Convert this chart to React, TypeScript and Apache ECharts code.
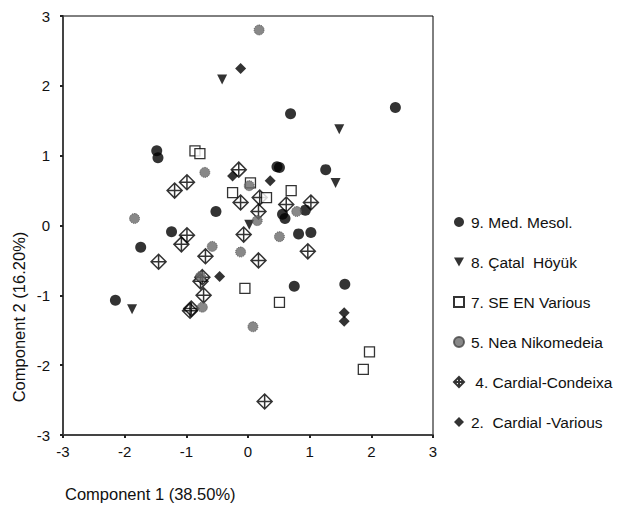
import React, { useEffect, useRef } from "react";
import * as echarts from "echarts";

const seriesNames = [
  "9. Med. Mesol.",
  "8. Çatal  Höyük",
  "7. SE EN Various",
  "5. Nea Nikomedeia",
  " 4. Cardial-Condeixa",
  "2.  Cardial -Various",
];

const medMesol = [
  [-1.48, 1.07], [-1.46, 0.97], [-1.74, -0.31], [-1.24, -0.09], [-2.15, -1.07],
  [-0.52, 0.2], [0.69, 1.6], [2.39, 1.69], [0.47, 0.84], [0.51, 0.83],
  [1.26, 0.8], [0.56, 0.16], [0.6, 0.1], [0.93, 0.22], [0.82, -0.12],
  [1.02, -0.1], [0.75, -0.87], [1.57, -0.84],
];

const catalHoyuk = [
  [-0.42, 2.09], [1.48, 1.38], [1.42, 0.61], [-1.88, -1.2], [0.02, 0.01],
];

const seEnVarious = [
  [-0.86, 1.07], [-0.78, 1.03], [-0.25, 0.47], [0.04, 0.61], [0.3, 0.4],
  [0.7, 0.5], [-0.05, -0.9], [0.51, -1.1], [1.97, -1.81], [1.87, -2.06],
];

const neaNikomedeia = [
  [0.18, 2.8], [-1.84, 0.1], [-0.7, 0.76], [0.02, 0.57], [0.15, 0.07],
  [0.79, 0.2], [-0.58, -0.3], [-0.12, -0.38], [-0.74, -1.17], [0.51, -0.16],
  [0.08, -1.45], [-0.77, -0.73],
];

const cardialCondeixa = [
  [-1.19, 0.5], [-0.99, 0.62], [-0.15, 0.8], [-0.12, 0.33], [0.19, 0.4],
  [0.62, 0.3], [1.02, 0.33], [0.17, 0.2], [-0.07, -0.13], [0.17, -0.5],
  [0.97, -0.37], [0.27, -2.52], [-0.99, -0.14], [-1.08, -0.27], [-0.69, -0.44],
  [-0.74, -0.74], [-0.77, -0.8], [-0.72, -1.0], [-0.92, -1.19], [-0.94, -1.22],
  [-1.45, -0.52],
];

const cardialVarious = [
  [-0.12, 2.25], [-0.25, 0.71], [0.36, 0.64], [-0.46, -0.73], [1.56, -1.25],
  [1.56, -1.37],
];

const axisMin = -3;
const axisMax = 3;
const axisInterval = 1;

const xTitle = "Component 1 (38.50%)";
const yTitle = "Component 2 (16.20%)";

const FONT = "'Liberation Sans', Arial, sans-serif";

const crossDiamond = "path://M0,-10 L10,0 L0,10 L-10,0 Z M0,-10 L0,10 M-10,0 L10,0";
const neaSymbol = "path://M0,-10 A10,10 0 1 1 0,10 A10,10 0 1 1 0,-10 Z";
const downTriangle = "path://M0,0 L10,0 L5,9 Z";

export default function App() {
  const ref = useRef<HTMLDivElement>(null);

  useEffect(() => {
    if (!ref.current) return;
    const chart = echarts.init(ref.current, null, { renderer: "svg" });

    const axisCommon = {
      type: "value" as const,
      min: axisMin,
      max: axisMax,
      interval: axisInterval,
      splitLine: { show: false },
      axisLine: { show: true, onZero: false, lineStyle: { color: "#444", width: 2 } },
      axisTick: { show: true, length: 3, lineStyle: { color: "#222", width: 2 } },
      axisLabel: { color: "#111", fontSize: 15, fontFamily: FONT },
    };

    chart.setOption({
      animation: false,
      backgroundColor: "#fff",
      grid: {
        left: 63,
        right: 194,
        top: 16,
        bottom: 77,
        show: true,
        borderColor: "#000",
        borderWidth: 1,
      },
      xAxis: { ...axisCommon, axisLabel: { ...axisCommon.axisLabel, margin: 9 } },
      yAxis: { ...axisCommon, axisLabel: { ...axisCommon.axisLabel, margin: 13 } },
      legend: {
        orient: "vertical",
        left: 448,
        top: 209,
        itemGap: 24,
        itemWidth: 10,
        itemHeight: 10,
        textStyle: { fontSize: 15.5, fontFamily: FONT, color: "#111", padding: [0, 0, 0, 2] },
        data: [
          { name: seriesNames[0] },
          { name: seriesNames[1], icon: downTriangle },
          { name: seriesNames[2] },
          { name: seriesNames[3] },
          { name: seriesNames[4] },
          { name: seriesNames[5] },
        ],
      },
      graphic: [
        {
          type: "text",
          left: 65,
          top: 485,
          style: { text: xTitle, fontSize: 16.5, fontFamily: FONT, fill: "#111" },
        },
        {
          type: "text",
          x: 19,
          y: 317,
          rotation: Math.PI / 2,
          style: {
            text: yTitle,
            fontSize: 16.5,
            fontFamily: FONT,
            fill: "#111",
            align: "center",
            verticalAlign: "middle",
          },
        },
      ],
      series: [
        {
          name: seriesNames[4],
          type: "scatter",
          data: cardialCondeixa,
          symbol: crossDiamond,
          symbolSize: 15,
          itemStyle: { color: "rgba(255,255,255,0)", borderColor: "#000", borderWidth: 1.5 },
        },
        {
          name: seriesNames[2],
          type: "scatter",
          data: seEnVarious,
          symbol: "rect",
          symbolSize: 10,
          itemStyle: { color: "#fff", borderColor: "#000", borderWidth: 1.3 },
        },
        {
          name: seriesNames[0],
          type: "scatter",
          data: medMesol,
          symbol: "circle",
          symbolSize: 11,
          itemStyle: { color: "#000" },
        },
        {
          name: seriesNames[1],
          type: "scatter",
          data: catalHoyuk,
          symbol: downTriangle,
          symbolSize: 10,
          itemStyle: { color: "#000" },
        },
        {
          name: seriesNames[3],
          type: "scatter",
          data: neaNikomedeia,
          symbol: neaSymbol,
          symbolSize: 10,
          itemStyle: { color: "#6a6a6a", borderColor: "#444", borderWidth: 1, borderType: "dotted" },
        },
        {
          name: seriesNames[5],
          type: "scatter",
          data: cardialVarious,
          symbol: "diamond",
          symbolSize: 11,
          itemStyle: { color: "#000" },
        },
      ],
    });

    return () => chart.dispose();
  }, []);

  return (
    <div
      ref={ref}
      style={{ position: "fixed", left: 0, top: 0, width: 627, height: 512, background: "#fff" }}
    />
  );
}
